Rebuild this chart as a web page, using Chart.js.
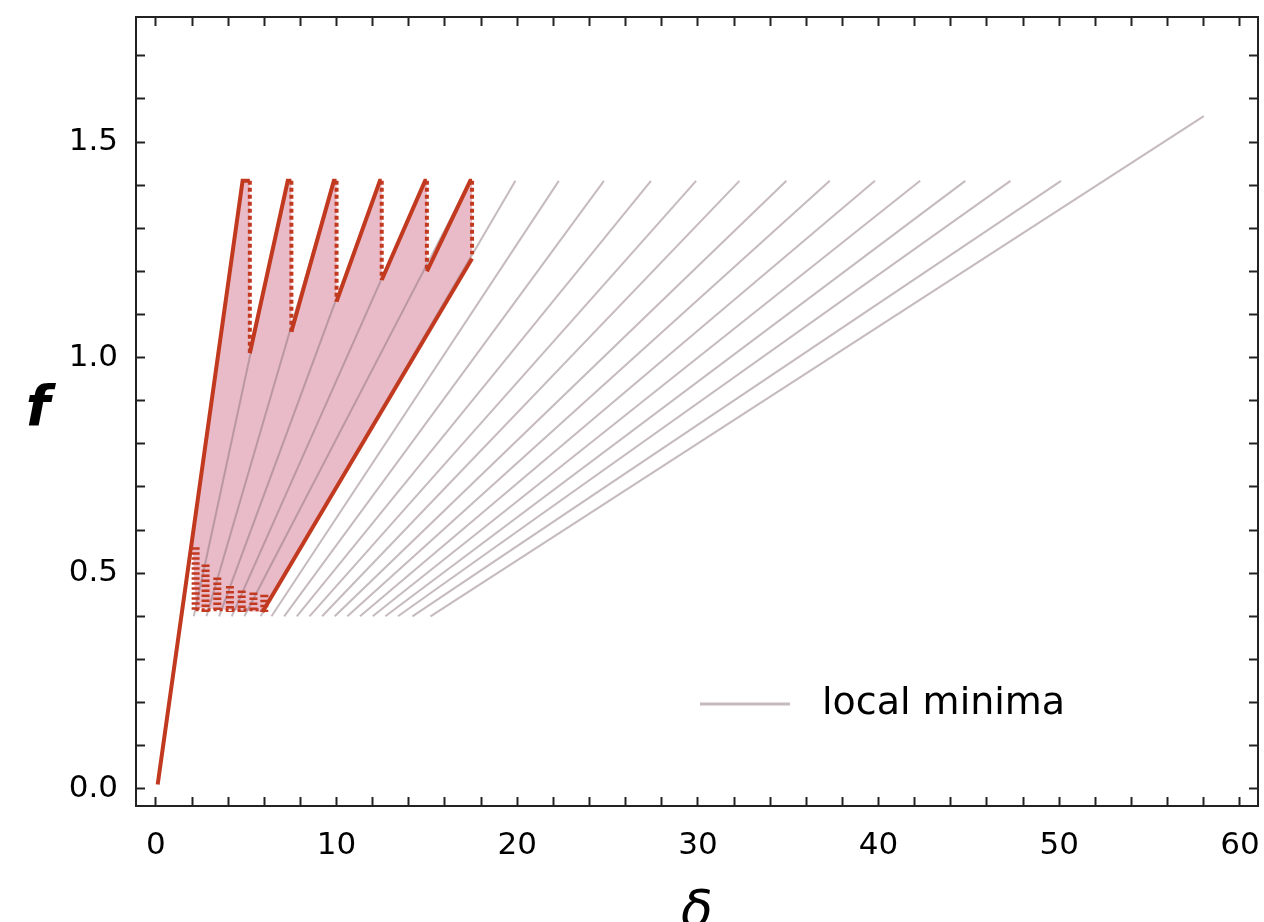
<!DOCTYPE html>
<html lang="en">
<head>
    <meta charset="UTF-8">
    <title>f vs delta</title>
    <script src="https://cdn.jsdelivr.net/npm/chart.js"></script>
    <style>
        body { margin: 0; background: #fff; }
        #wrap { width: 1264px; height: 922px; position: relative; }
    </style>
</head>
<body>
<div id="wrap"><canvas id="chart"></canvas></div>

<script>
    // gray "local minima" branches, bottom end -> top end
    const minLowD  = [1.4, 2.1, 2.8, 3.5, 4.2, 4.9, 5.8, 6.4, 7.1, 7.8, 8.5, 9.2, 9.9, 10.6, 11.3, 12.0, 12.7, 13.4, 14.2, 15.2];
    const minLowF  = [0.40, 0.40, 0.40, 0.40, 0.40, 0.40, 0.40, 0.40, 0.40, 0.40, 0.40, 0.40, 0.40, 0.40, 0.40, 0.40, 0.40, 0.40, 0.40, 0.40];
    const minHighD = [4.8, 7.3, 9.85, 12.4, 14.9, 17.4, 19.9, 22.3, 24.8, 27.4, 29.9, 32.3, 34.9, 37.3, 39.8, 42.3, 44.8, 47.3, 50.1, 58.0];
    const minHighF = [1.41, 1.41, 1.41, 1.41, 1.41, 1.41, 1.41, 1.41, 1.41, 1.41, 1.41, 1.41, 1.41, 1.41, 1.41, 1.41, 1.41, 1.41, 1.41, 1.56];

    // red upper envelope (solid pieces, null = break)
    const upperD = [0.1, 4.8, 5.2, null, 5.2, 7.3, 7.5, null, 7.5, 9.85, 10.0, null, 10.0, 12.4, 12.5, null, 12.5, 14.9, 15.0, null, 15.0, 17.4, 17.5];
    const upperF = [0.01, 1.41, 1.41, null, 1.01, 1.41, 1.41, null, 1.06, 1.41, 1.41, null, 1.13, 1.41, 1.41, null, 1.18, 1.41, 1.41, null, 1.20, 1.41, 1.41];

    // red lower boundary
    const lowerD = [5.9, 17.5];
    const lowerF = [0.41, 1.23];

    // dotted drops at the top
    const dropD    = [5.2, 7.5, 10.0, 12.5, 15.0, 17.5];
    const dropTopF = [1.41, 1.41, 1.41, 1.41, 1.41, 1.41];
    const dropLowF = [1.01, 1.06, 1.13, 1.18, 1.20, 1.24];

    // dotted comb near the bottom
    const combD    = [2.2, 2.75, 3.4, 4.1, 4.75, 5.4, 6.0];
    const combTopF = [0.56, 0.52, 0.49, 0.47, 0.46, 0.455, 0.45];
    const combLowF = [0.41, 0.41, 0.41, 0.41, 0.41, 0.41, 0.41];
    const combBaseD = [2.2, 6.0];
    const combBaseF = [0.415, 0.415];

    // shaded region outline
    const shadeD = [2.0, 4.8, 5.2, 5.2, 7.3, 7.5, 7.5, 9.85, 10.0, 10.0, 12.4, 12.5, 12.5, 14.9, 15.0, 15.0, 17.4, 17.5, 17.5, 5.9, 2.2];
    const shadeF = [0.59, 1.41, 1.41, 1.01, 1.41, 1.41, 1.06, 1.41, 1.41, 1.13, 1.41, 1.41, 1.18, 1.41, 1.41, 1.20, 1.41, 1.41, 1.24, 0.41, 0.42];

    const xTicksMajor = [0, 10, 20, 30, 40, 50, 60];
    const yTicksMajor = [0.0, 0.5, 1.0, 1.5];

    const RED = '#c1391f';
    const GRAY = 'rgba(140,118,128,0.5)';
    const PINK = '#e9bac7';
    const FONT = '"DejaVu Sans", Verdana, sans-serif';

    function pts(xs, ys) {
        return xs.map((x, i) => ({ x: x, y: ys[i] }));
    }
    function vlines(xs, y1, y2) {
        const out = [];
        xs.forEach((x, i) => {
            out.push({ x: x, y: y1[i] });
            out.push({ x: x, y: y2[i] });
            out.push({ x: x, y: null });
        });
        return out;
    }

    const datasets = [];
    datasets.push({
        label: 'shade', data: pts(shadeD, shadeF), showLine: true, fill: 'shape',
        backgroundColor: PINK, borderWidth: 0, pointRadius: 0, order: 5
    });
    for (let i = 0; i < minLowD.length; i++) {
        datasets.push({
            label: i === 0 ? 'local minima' : '',
            data: [{ x: minLowD[i], y: minLowF[i] }, { x: minHighD[i], y: minHighF[i] }],
            showLine: true, borderColor: GRAY, borderWidth: 2, pointRadius: 0, order: 4
        });
    }
    datasets.push({
        label: 'upper', data: pts(upperD, upperF), showLine: true, spanGaps: false,
        borderColor: RED, borderWidth: 4, pointRadius: 0, order: 1
    });
    datasets.push({
        label: 'lower', data: pts(lowerD, lowerF), showLine: true,
        borderColor: RED, borderWidth: 4, pointRadius: 0, order: 1
    });
    datasets.push({
        label: 'drops', data: vlines(dropD, dropTopF, dropLowF), showLine: true, spanGaps: false,
        borderColor: RED, borderWidth: 4, borderDash: [4, 3], pointRadius: 0, order: 0
    });
    datasets.push({
        label: 'comb', data: vlines(combD, combTopF, combLowF), showLine: true, spanGaps: false,
        borderColor: RED, borderWidth: 8, borderDash: [2.5, 2.5], pointRadius: 0, order: 0
    });
    datasets.push({
        label: 'combBase', data: pts(combBaseD, combBaseF), showLine: true,
        borderColor: RED, borderWidth: 3, borderDash: [3, 3], pointRadius: 0, order: 0
    });

    const isMajor = (v, list) => list.some(m => Math.abs(m - v) < 1e-6);

    // legend and upright "f" drawn on top
    const extras = {
        id: 'extras',
        afterDraw(chart) {
            const ctx = chart.ctx;
            ctx.save();
            ctx.strokeStyle = GRAY;
            ctx.lineWidth = 3;
            ctx.beginPath();
            ctx.moveTo(700, 704);
            ctx.lineTo(790, 704);
            ctx.stroke();
            ctx.fillStyle = '#000';
            ctx.font = '38px ' + FONT;
            ctx.textAlign = 'left';
            ctx.textBaseline = 'middle';
            ctx.fillText('local minima', 822, 704);
            ctx.font = 'italic bold 56px ' + FONT;
            ctx.textAlign = 'center';
            ctx.fillText('f', 38, 410);
            ctx.restore();
        }
    };

    const frame = { display: true, color: '#222', width: 2 };
    const inTicks = { drawOnChartArea: false, drawTicks: true, tickLength: -9, tickColor: '#222', tickWidth: 2 };
    const noPad = s => { s.paddingLeft = 0; s.paddingRight = 0; s.paddingTop = 0; s.paddingBottom = 0; };

    new Chart(document.getElementById('chart'), {
        type: 'scatter',
        data: { datasets: datasets },
        options: {
            responsive: true,
            maintainAspectRatio: false,
            animation: false,
            layout: { padding: 0 },
            plugins: { legend: { display: false }, tooltip: { enabled: false } },
            scales: {
                x: {
                    type: 'linear', position: 'bottom', min: -1.1, max: 61,
                    border: frame, grid: inTicks,
                    ticks: {
                        stepSize: 2, autoSkip: false, includeBounds: false, maxRotation: 0,
                        padding: 30, color: '#000', font: { family: FONT, size: 31 },
                        callback: v => isMajor(v, xTicksMajor) ? String(v) : ''
                    },
                    title: { display: true, text: 'δ', color: '#000', font: { family: FONT, size: 52, style: 'italic' }, padding: { top: 0, bottom: -23 } },
                    afterFit: s => { s.height = 116; noPad(s); }
                },
                x2: {
                    type: 'linear', position: 'top', min: -1.1, max: 61,
                    border: frame, grid: inTicks,
                    ticks: { stepSize: 2, autoSkip: false, includeBounds: false, callback: () => '' },
                    afterFit: s => { s.height = 17; noPad(s); }
                },
                y: {
                    type: 'linear', position: 'left', min: -0.04, max: 1.79,
                    border: frame, grid: inTicks,
                    ticks: {
                        stepSize: 0.1, autoSkip: false, includeBounds: false,
                        padding: 27, color: '#000', font: { family: FONT, size: 31 },
                        callback: v => isMajor(v, yTicksMajor) ? v.toFixed(1) : ''
                    },
                    afterFit: s => { s.width = 136; noPad(s); }
                },
                y2: {
                    type: 'linear', position: 'right', min: -0.04, max: 1.79,
                    border: frame, grid: inTicks,
                    ticks: { stepSize: 0.1, autoSkip: false, includeBounds: false, callback: () => '' },
                    afterFit: s => { s.width = 6; noPad(s); }
                }
            }
        },
        plugins: [extras]
    });
</script>
</body>
</html>
